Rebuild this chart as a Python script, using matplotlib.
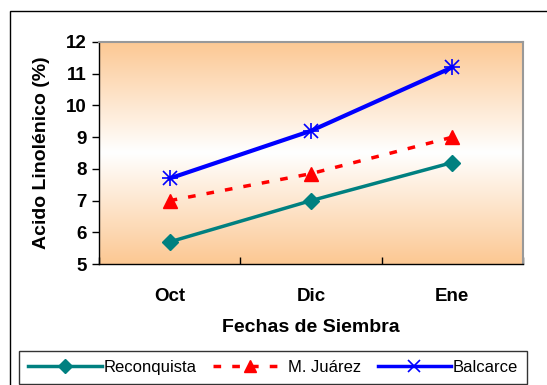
import numpy as np
import matplotlib
import matplotlib.pyplot as plt
from matplotlib.colors import LinearSegmentedColormap
from matplotlib.patches import Rectangle
from matplotlib.lines import Line2D

matplotlib.use('Agg')
plt.rcParams['font.family'] = ['Liberation Sans', 'DejaVu Sans']

# sowing dates and linolenic acid (%) per location
fechas = ['Oct', 'Dic', 'Ene']
reconquista = [5.7, 7.0, 8.2]
m_juarez = [7.0, 7.85, 9.0]
balcarce = [7.7, 9.2, 11.2]

fig = plt.figure(figsize=(5.47, 3.85), dpi=100)
ax = fig.add_axes([0.181, 0.314, 0.775, 0.577])

# outer chart frame
fig.patches.append(Rectangle((10 / 547, -0.01), 1.2, 1 - 11 / 385 + 0.01,
                             transform=fig.transFigure, fill=False,
                             edgecolor='black', linewidth=1.0, zorder=0))

# orange -> white -> orange background
cmap = LinearSegmentedColormap.from_list('bg', ['#FCC893', '#FFFFFF', '#FCC893'])
grad = np.linspace(0, 1, 256).reshape(-1, 1)
ax.imshow(grad, cmap=cmap, aspect='auto', extent=[-0.5, 2.5, 5, 12],
          origin='lower', zorder=0)

x = np.arange(len(fechas))
ax.plot(x, reconquista, color='#008080', linewidth=2.5, marker='D',
        markersize=8, zorder=3, label='Reconquista')
ax.plot(x, m_juarez, color='red', linewidth=2.5, linestyle=(0, (2.2, 3.2)),
        marker='^', markersize=10, zorder=3, label='M. Juárez')
ax.plot(x, balcarce, color='blue', linewidth=3.0, marker='x',
        markersize=10, markeredgewidth=1.2, zorder=4, label='Balcarce')
ax.plot(x, balcarce, color='blue', linestyle='none', marker='+',
        markersize=12, markeredgewidth=1.2, zorder=4)

ax.set_xlim(-0.5, 2.5)
ax.set_ylim(5, 12)
ax.set_yticks(range(5, 13))
ax.set_xticks(x)
ax.set_xticklabels(fechas)
ax.set_xticks([-0.5, 0.5, 1.5, 2.5], minor=True)
ax.tick_params(axis='x', which='major', length=0, pad=17)
ax.tick_params(axis='x', which='minor', length=5, direction='in', width=1)
ax.tick_params(axis='y', length=5, direction='out', width=1, pad=4)
for lab in ax.get_xticklabels() + ax.get_yticklabels():
    lab.set_fontsize(13.5)
    lab.set_fontweight('bold')

for s in ['top', 'right']:
    ax.spines[s].set_color('#999999')
    ax.spines[s].set_linewidth(1.5)
for s in ['left', 'bottom']:
    ax.spines[s].set_color('black')
    ax.spines[s].set_linewidth(1.0)

ax.set_ylabel('Acido Linolénico (%)', fontsize=14, fontweight='bold', labelpad=11)
ax.set_xlabel('Fechas de Siembra', fontsize=14, fontweight='bold', labelpad=10)

handles = [
    Line2D([], [], color='#008080', linewidth=2.5, marker='D', markersize=7),
    Line2D([], [], color='red', linewidth=2.5, linestyle=(0, (2.2, 3.2)),
           marker='^', markersize=9),
    Line2D([], [], color='blue', linewidth=2.5, marker='x', markersize=8,
           markeredgewidth=1.2),
]
leg = fig.legend(handles, ['Reconquista', 'M. Juárez', 'Balcarce'], ncol=3,
                 loc='lower left', bbox_to_anchor=(19 / 547, 1 / 385),
                 fontsize=12, frameon=True, fancybox=False, handlelength=4.4,
                 handletextpad=0.1, columnspacing=1.0, borderpad=0.55,
                 borderaxespad=0)
leg.get_frame().set_edgecolor('black')
leg.get_frame().set_linewidth(1.0)

fig.savefig('out.png', dpi=100)
plt.close(fig)
